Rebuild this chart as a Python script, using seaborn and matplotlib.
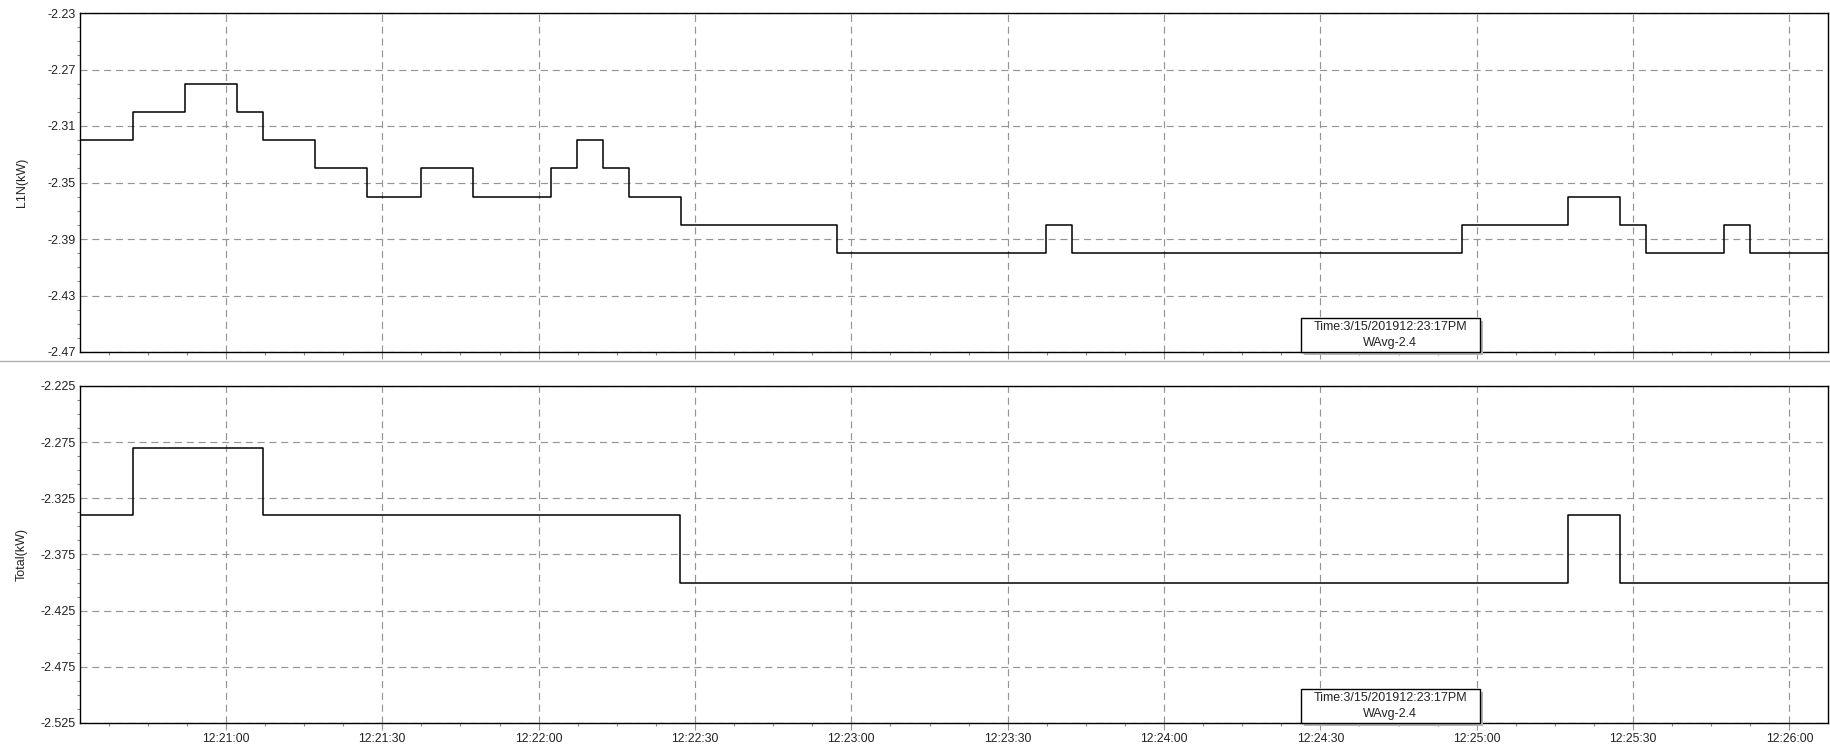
import matplotlib
matplotlib.use("Agg")
import matplotlib.pyplot as plt
import matplotlib.dates as mdates
import matplotlib.ticker as mticker
from matplotlib.patches import Rectangle
from matplotlib.lines import Line2D
import matplotlib.transforms as mtrans
import pandas as pd
import seaborn as sns

# ---------------- data ----------------
day = "2019-03-15 "
l1n_times = ["12:20:32.0", "12:20:42.1", "12:20:52.1", "12:21:02.1", "12:21:07.1",
             "12:21:17.1", "12:21:27.1", "12:21:37.4", "12:21:47.4", "12:22:02.4",
             "12:22:07.4", "12:22:12.4", "12:22:17.4", "12:22:27.3", "12:22:57.3",
             "12:23:37.3", "12:23:42.4", "12:24:57.2", "12:25:17.5", "12:25:27.5",
             "12:25:32.4", "12:25:47.4", "12:25:52.4", "12:26:07.4"]
l1n_values = [-2.32, -2.30, -2.28, -2.30, -2.32,
              -2.34, -2.36, -2.34, -2.36, -2.34,
              -2.32, -2.34, -2.36, -2.38, -2.40,
              -2.38, -2.40, -2.38, -2.36, -2.38,
              -2.40, -2.38, -2.40, -2.40]

total_times = ["12:20:32.0", "12:20:42.1", "12:21:07.1", "12:22:27.2",
               "12:25:17.5", "12:25:27.5", "12:26:07.4"]
total_values = [-2.34, -2.28, -2.34, -2.40, -2.34, -2.40, -2.40]

x_start, x_end = "12:20:32.0", "12:26:07.4"
top_ylim = (-2.47, -2.23)
top_yticks = [-2.47, -2.43, -2.39, -2.35, -2.31, -2.27, -2.23]
bot_ylim = (-2.525, -2.225)
bot_yticks = [-2.525, -2.475, -2.425, -2.375, -2.325, -2.275, -2.225]
top_ylabel = "L1N(kW)"
bot_ylabel = "Total(kW)"
box_line1 = "Time:3/15/201912:23:17PM"
box_line2 = "WAvg-2.4"

df_l1n = pd.DataFrame({"time": pd.to_datetime([day + t for t in l1n_times]),
                       "value": l1n_values})
df_tot = pd.DataFrame({"time": pd.to_datetime([day + t for t in total_times]),
                       "value": total_values})

# ---------------- style ----------------
sns.set_style("white")
plt.rcParams["font.family"] = ["Liberation Sans", "DejaVu Sans"]

fig = plt.figure(figsize=(18.3, 7.47), dpi=100)
W, H = 1830, 747
ax1 = fig.add_axes([80 / W, 1 - 352 / H, 1748 / W, 339 / H])
ax2 = fig.add_axes([80 / W, 1 - 723 / H, 1748 / W, 337 / H])

sns.lineplot(data=df_l1n, x="time", y="value", ax=ax1, color="black",
             drawstyle="steps-post", linewidth=1.1, estimator=None)
sns.lineplot(data=df_tot, x="time", y="value", ax=ax2, color="black",
             drawstyle="steps-post", linewidth=1.1, estimator=None)

xmin = pd.Timestamp(day + x_start)
xmax = pd.Timestamp(day + x_end)
grid_kw = dict(color="#959595", linestyle=(0, (6, 4)), linewidth=0.85)

for ax, ylim, yticks, ylabel in [(ax1, top_ylim, top_yticks, top_ylabel),
                                 (ax2, bot_ylim, bot_yticks, bot_ylabel)]:
    ax.set_xlim(xmin, xmax)
    ax.set_ylim(*ylim)
    ax.set_yticks(yticks)
    step = yticks[1] - yticks[0]
    ax.yaxis.set_minor_locator(mticker.MultipleLocator(step / 4))
    ax.yaxis.set_major_formatter(mticker.FuncFormatter(lambda v, p: f"{v:g}"))
    ax.xaxis.set_major_locator(mdates.SecondLocator(bysecond=[0, 30]))
    ax.xaxis.set_minor_locator(mticker.MultipleLocator(7.5 / 86400))
    ax.xaxis.set_major_formatter(mdates.DateFormatter("%H:%M:%S"))
    ax.grid(True, which="major", **grid_kw)
    ax.set_xlabel("")
    ax.set_ylabel(ylabel, fontsize=9, color="#222222")
    ax.yaxis.set_label_coords(-0.030, 0.5)
    for s in ax.spines.values():
        s.set_color("black")
        s.set_linewidth(1.0)
    ax.tick_params(axis="y", which="major", length=0, pad=3,
                   labelsize=9, labelcolor="#222222")
    ax.tick_params(axis="y", which="minor", left=True, length=2.5,
                   width=0.8, color="#888888")
    ax.tick_params(axis="x", which="major", bottom=True, length=5, width=0.8,
                   color="#959595", pad=2, labelsize=8.8, labelcolor="#222222")
    ax.tick_params(axis="x", which="minor", bottom=True, length=2.5,
                   width=0.8, color="#888888")

    # info box with shadow
    bx0, bw = (1300.7 - 80) / 1748, (1480 - 1300.7) / 1748
    bh = 34 / (339 if ax is ax1 else 337)
    shadow_tr = ax.transAxes + mtrans.ScaledTranslation(3 / 100, -3 / 100,
                                                         fig.dpi_scale_trans)
    ax.add_patch(Rectangle((bx0, 0), bw, bh, transform=shadow_tr,
                           facecolor="#b5b5b5", edgecolor="none",
                           clip_on=False, zorder=5))
    ax.add_patch(Rectangle((bx0, 0), bw, bh, transform=ax.transAxes,
                           facecolor="white", edgecolor="black", linewidth=1.0,
                           clip_on=False, zorder=6))
    ax.text(bx0 + bw / 2, bh * 0.73, box_line1, transform=ax.transAxes,
            ha="center", va="center", fontsize=9, color="#222222", zorder=7)
    ax.text(bx0 + bw / 2, bh * 0.27, box_line2, transform=ax.transAxes,
            ha="center", va="center", fontsize=9, color="#222222", zorder=7)

ax1.tick_params(axis="x", which="both", labelbottom=False)

fig.add_artist(Line2D([0, 1], [1 - 360.5 / H, 1 - 360.5 / H],
                      transform=fig.transFigure, color="#b0b0b0", linewidth=1.0))

fig.savefig("out.png", dpi=100, facecolor="white")
